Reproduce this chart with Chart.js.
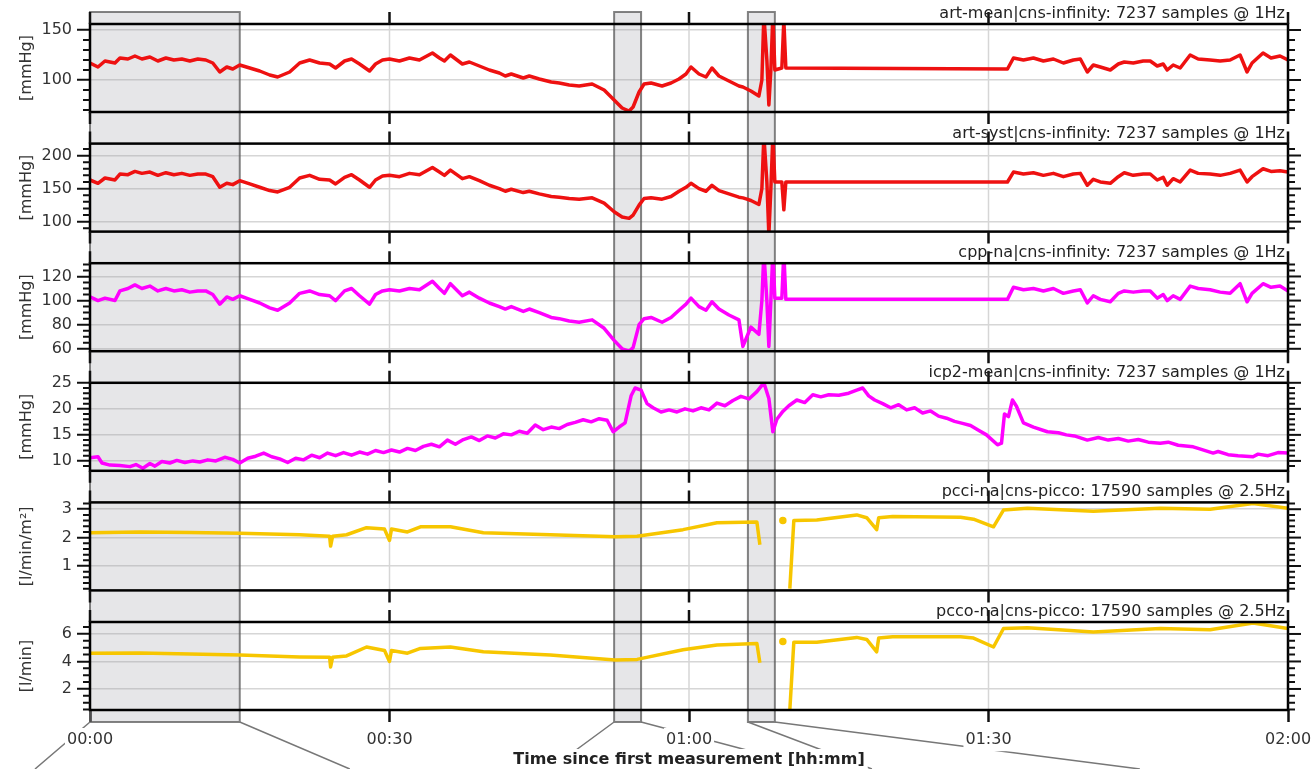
<!DOCTYPE html>
<html>
<head>
<meta charset="utf-8">
<script src="https://cdn.jsdelivr.net/npm/chart.js@4.4.1/dist/chart.umd.min.js"></script>
<style>
  html, body { margin: 0; padding: 0; background: #fff; }
  #wrap { position: relative; width: 1312px; height: 769px; }
</style>
</head>
<body>
<div id="wrap"><canvas id="signals" width="1312" height="769"></canvas></div>
<script>
// x axis: minutes since first measurement
const timeTicks = ['00:00', '00:30', '01:00', '01:30', '02:00'];
const xTitle = 'Time since first measurement [hh:mm]';

// panels, top to bottom
const panelTitles = [
  'art-mean|cns-infinity: 7237 samples @ 1Hz',
  'art-syst|cns-infinity: 7237 samples @ 1Hz',
  'cpp-na|cns-infinity: 7237 samples @ 1Hz',
  'icp2-mean|cns-infinity: 7237 samples @ 1Hz',
  'pcci-na|cns-picco: 17590 samples @ 2.5Hz',
  'pcco-na|cns-picco: 17590 samples @ 2.5Hz'
];
const panelUnits = ['[mmHg]', '[mmHg]', '[mmHg]', '[mmHg]', '[l/min/m²]', '[l/min]'];
const panelMin = [68, 85, 58, 8.1, 0.14, 0.47];
const panelMax = [156, 218, 131, 25, 3.24, 6.87];
const panelStep = [50, 50, 20, 5, 1, 2];
const panelMinor = [10, 10, 5, 1, 0.2, 0.5];
const panelColors = ['#ee1111', '#ee1111', '#ff00ff', '#ff00ff', '#f7c600', '#f7c600'];

// shaded intervals (minutes)
const shadeStart = [0, 52.5, 65.9];
const shadeEnd = [15.0, 55.2, 68.6];

// infinity monitor: art-mean, art-syst and cpp share one time base
const infinityTime = [0, 0.8, 1.5, 2.5, 3.0, 3.8, 4.5, 5.2, 6.0, 6.8,
  7.6, 8.4, 9.2, 10.0, 10.8, 11.6, 12.3, 13.0, 13.7, 14.3,
  15.0, 16.0, 17.0, 18.0, 18.8, 20.0, 21.0, 22.0, 23.0, 24.0,
  24.6, 25.5, 26.2, 27.0, 28.0, 28.6, 29.3, 30.0, 31.0, 32.0,
  33.0, 34.3, 35.0, 35.5, 36.1, 37.3, 38.0, 39.0, 40.0, 41.0,
  41.6, 42.2, 43.4, 44.0, 45.0, 46.2, 47.0, 48.0, 49.0, 50.3,
  51.5, 52.5, 53.3, 54.0, 54.4, 55.0, 55.5, 56.2, 57.3, 58.2,
  59.0, 59.7, 60.2, 61.0, 61.7, 62.3, 63.0, 64.0, 65.0, 65.4,
  65.8, 66.2, 67.0, 67.3, 67.5, 67.8, 68.0, 68.2, 68.4, 68.6,
  69.3, 69.5, 69.7, 91.9, 92.5, 93.5, 94.5, 95.5, 96.5, 97.5,
  98.5, 99.2, 99.9, 100.5, 101.2, 102.2, 103.0, 103.6, 104.5, 105.5,
  106.2, 106.9, 107.5, 107.9, 108.5, 109.2, 110.2, 111.0, 112.2, 113.2,
  114.2, 115.2, 115.9, 116.4, 117.5, 118.3, 119.2, 120];
const artMeanValues = [117, 113, 119, 117, 122, 121, 124, 121, 123, 119,
  122, 120, 121, 119, 121, 120, 117, 108, 113, 111,
  115, 112, 109, 105, 103, 108, 117, 120, 117, 116,
  112, 119, 121, 116, 109, 116, 120, 121, 119, 122,
  120, 127, 122, 119, 125, 116, 118, 114, 110, 107,
  104, 106, 102, 104, 101, 98, 97, 95, 94, 96,
  90, 80, 72, 69, 73, 88, 96, 97, 94, 97,
  101, 106, 113, 106, 103, 112, 104, 99, 94, 93,
  91, 89, 84, 100, 165, 120, 75, 110, 165, 110,
  112, 160, 112, 111, 122, 120, 122, 119, 121, 117,
  120, 121, 108, 115, 113, 110, 116, 118, 117, 119,
  119, 114, 116, 110, 115, 112, 125, 121, 120, 119,
  120, 125, 108, 117, 127, 122, 124, 120];
const artSystValues = [163, 158, 166, 163, 172, 171, 176, 173, 175, 170,
  174, 171, 173, 170, 172, 172, 168, 152, 158, 156,
  162, 157, 152, 147, 145, 152, 166, 170, 164, 163,
  157, 167, 171, 163, 152, 163, 169, 170, 168, 173,
  171, 182, 175, 170, 178, 165, 168, 162, 155, 150,
  146, 149, 144, 146, 142, 138, 137, 135, 134, 136,
  128, 115, 107, 105, 110, 125, 135, 136, 134, 138,
  146, 152, 158, 150, 146, 155, 147, 142, 137, 136,
  134, 132, 126, 150, 230, 160, 80, 150, 230, 160,
  160, 118, 160, 160, 175, 172, 174, 170, 173, 168,
  172, 173, 155, 164, 160, 158, 168, 174, 170, 172,
  172, 163, 167, 155, 165, 160, 178, 173, 172, 170,
  173, 178, 160, 168, 180, 176, 177, 175];
const cppValues = [103, 100, 102, 100, 108, 110, 113, 110, 112, 108,
  110, 108, 109, 107, 108, 108, 105, 97, 103, 101,
  104, 101, 98, 94, 92, 98, 106, 108, 105, 104,
  100, 108, 110, 104, 97, 105, 108, 109, 108, 110,
  109, 116, 110, 106, 114, 104, 107, 102, 98, 95,
  93, 95, 91, 93, 90, 86, 85, 83, 82, 84,
  77, 67, 60, 58, 61, 80, 85, 86, 82, 86,
  92, 97, 102, 95, 92, 99, 93, 88, 84, 62,
  70, 78, 72, 100, 140, 100, 62, 100, 140, 102,
  102, 140, 101, 101, 111, 109, 110, 108, 110, 106,
  108, 109, 98, 104, 101, 99, 106, 108, 107, 108,
  108, 102, 105, 100, 104, 101, 112, 110, 109, 107,
  106, 114, 99, 106, 114, 111, 112, 108];

const icpTime = [0, 0.8, 1.2, 2, 3, 4, 4.6, 5.3, 6, 6.5, 7.2, 8, 8.7, 9.5, 10.3, 11, 11.8, 12.6, 13.5, 14.3,
  15, 15.8, 16.6, 17.4, 18.2, 19, 19.8, 20.6, 21.4, 22.2, 23, 23.8, 24.6, 25.4, 26.2, 27, 27.8, 28.6, 29.4, 30.2,
  31, 31.8, 32.6, 33.4, 34.2, 35, 35.8, 36.6, 37.4, 38.2, 39, 39.8, 40.6, 41.4, 42.2, 43, 43.8, 44.6, 45.4, 46.2,
  47, 47.8, 48.6, 49.4, 50.2, 51, 51.8, 52.4, 53, 53.6, 54.2, 54.6, 55.2, 55.8, 56.4, 57.2, 58, 58.8, 59.6, 60.4,
  61.2, 62, 62.8, 63.6, 64.4, 65.2, 66, 66.8, 67.5, 68, 68.4, 68.8, 69.4, 70, 70.8, 71.6, 72.4, 73.2, 74, 75,
  76, 76.8, 77.4, 78, 78.6, 79.4, 80.2, 81, 81.8, 82.6, 83.4, 84.2, 85, 85.8, 86.6, 87.4, 88.2, 89, 89.8, 90.9,
  91.3, 91.6, 92, 92.4, 92.8, 93.5, 94.5, 95.9, 97, 97.8, 98.6, 99.9, 101, 102, 103, 104, 105, 106, 107.2, 108,
  109, 110.5, 111, 112.5, 113, 114, 115, 116.5, 117, 118, 119, 120];
const icpValues = [10.6, 10.8, 9.6, 9.2, 9.1, 8.9, 9.3, 8.6, 9.5, 9.0, 9.9, 9.6, 10.1, 9.7, 10.0, 9.8, 10.2, 10.0, 10.7, 10.3,
  9.6, 10.5, 10.9, 11.5, 10.8, 10.4, 9.7, 10.5, 10.2, 11.1, 10.6, 11.5, 11.0, 11.6, 11.1, 11.7, 11.3, 12.0, 11.6, 12.1,
  11.7, 12.4, 12.0, 12.8, 13.2, 12.7, 14.0, 13.2, 14.1, 14.6, 13.9, 14.8, 14.4, 15.2, 15.0, 15.7, 15.3, 16.9, 16.0, 16.5,
  16.2, 17.0, 17.4, 17.9, 17.5, 18.1, 17.8, 15.6, 16.5, 17.3, 22.5, 24.0, 23.6, 21.0, 20.2, 19.4, 19.8, 19.4, 20.0, 19.6,
  20.2, 19.8, 21.1, 20.6, 21.6, 22.4, 21.9, 23.3, 25.0, 22.0, 15.6, 18.0, 19.5, 20.6, 21.7, 21.2, 22.7, 22.3, 22.7, 22.6,
  23.0, 23.6, 24.0, 22.5, 21.7, 21.0, 20.2, 20.8, 19.8, 20.2, 19.2, 19.6, 18.6, 18.2, 17.6, 17.2, 16.8, 15.9, 15.0, 13.1,
  13.4, 19.0, 18.5, 21.7, 20.5, 17.3, 16.5, 15.6, 15.4, 15.0, 14.8, 14.0, 14.5, 14.0, 14.3, 13.8, 14.1, 13.6, 13.4, 13.6,
  13.0, 12.7, 12.4, 11.5, 11.8, 11.2, 11.0, 10.8, 11.3, 11.0, 11.6, 11.5];

// picco device: both series share one time base; null = no signal
const piccoTime = [0, 5, 10, 15, 21, 24, 24.1, 24.3, 25.7, 27.7, 29.5, 30, 30.2, 31.8, 33.1, 36.1, 39.4, 46.1, 52.6, 54.8,
  59.4, 62.8, 66.8, 67.1, 67.3, 69.4, 69.5, 70.1, 70.5, 72.8, 76.8, 77.8, 78.8, 79.0, 80.4, 87.2, 88.5, 90.5, 91.5, 93.9,
  100.5, 107.2, 112.2, 116.5, 120];
const pcciValues = [2.17, 2.2, 2.18, 2.15, 2.1, 2.05, 1.7, 2.05, 2.1, 2.35, 2.3, 1.9, 2.3, 2.2, 2.38, 2.38, 2.17, 2.1, 2.03, 2.05,
  2.28, 2.52, 2.55, 1.75, null, 2.6, null, 0.2, 2.6, 2.62, 2.8, 2.7, 2.28, 2.7, 2.74, 2.72, 2.65, 2.38, 2.97, 3.03,
  2.93, 3.03, 3.0, 3.2, 3.03];
const pccoValues = [4.6, 4.62, 4.55, 4.47, 4.33, 4.3, 3.6, 4.3, 4.4, 5.05, 4.8, 4.0, 4.8, 4.6, 4.95, 5.05, 4.7, 4.47, 4.1, 4.15,
  4.85, 5.2, 5.3, 3.9, null, 5.45, null, 0.47, 5.4, 5.4, 5.75, 5.6, 4.7, 5.7, 5.8, 5.8, 5.7, 5.05, 6.4, 6.45,
  6.15, 6.4, 6.3, 6.8, 6.4];

const seriesTimes = [infinityTime, infinityTime, infinityTime, icpTime, piccoTime, piccoTime];
const seriesValues = [artMeanValues, artSystValues, cppValues, icpValues, pcciValues, pccoValues];

const FONT = 'DejaVu Sans';

function toPoints(times, values) {
  return times.map((t, k) => ({x: t, y: values[k]}));
}

// isolated samples (gap on both sides) are shown as a dot
function isolatedRadius(ctx) {
  const d = ctx.dataset.data, i = ctx.dataIndex;
  const prev = d[i - 1], next = d[i + 1];
  if (d[i].y == null) return 0;
  return (prev && prev.y == null) && (next && next.y == null) ? 2 : 0;
}

const datasets = panelTitles.map((title, i) => ({
  label: title,
  data: toPoints(seriesTimes[i], seriesValues[i]),
  yAxisID: 'y' + i,
  borderColor: panelColors[i],
  backgroundColor: panelColors[i],
  borderWidth: 3.5,
  borderJoinStyle: 'round',
  pointRadius: isolatedRadius,
  pointHoverRadius: 0,
  tension: 0,
  spanGaps: false,
  fill: false
}));

const scales = {
  x: {
    type: 'linear', min: 0, max: 120,
    afterFit: s => { s.height = 59; s.paddingLeft = 0; s.paddingRight = 0; },
    ticks: {
      stepSize: 30, autoSkip: false, maxRotation: 0,
      callback: (v, i) => timeTicks[i],
      color: '#333', font: {family: FONT, size: 16}, padding: 8,
      showLabelBackdrop: true, backdropColor: '#fff', backdropPadding: 2, z: 1
    },
    grid: {drawOnChartArea: false, drawTicks: true, tickLength: 12, tickColor: '#111', tickWidth: 2.5},
    border: {display: false}
  }
};
// first defined sits at the bottom of the stack
for (let i = panelTitles.length - 1; i >= 0; i--) {
  scales['y' + i] = {
    type: 'linear', position: 'left', stack: 'panels', stackWeight: 88,
    min: panelMin[i], max: panelMax[i],
    afterFit: s => { s.width = 90; },
    ticks: {stepSize: panelStep[i], includeBounds: false, autoSkip: false, color: '#333', font: {family: FONT, size: 16}, padding: 5},
    grid: {color: '#d6d6d6', lineWidth: 1.5, tickColor: '#111', tickLength: 13, tickWidth: 2},
    border: {display: false},
    title: {display: true, text: panelUnits[i], color: '#333', font: {family: FONT, size: 16}, padding: {top: 17, bottom: 0}}
  };
  if (i > 0) {
    scales['gap' + i] = {
      type: 'linear', position: 'left', stack: 'panels', stackWeight: 31.6,
      afterFit: s => { s.width = 90; },
      ticks: {display: false},
      grid: {display: false, drawTicks: false},
      border: {display: false}
    };
  }
}

const panelDecor = {
  id: 'panelDecor',
  beforeDatasetsDraw(chart) {
    const ctx = chart.ctx, xs = chart.scales.x, area = chart.chartArea;
    ctx.save();
    ctx.strokeStyle = '#d6d6d6';
    ctx.lineWidth = 1.5;
    panelTitles.forEach((t, i) => {
      const s = chart.scales['y' + i];
      xs.ticks.forEach(tk => {
        const px = xs.getPixelForValue(tk.value);
        ctx.beginPath(); ctx.moveTo(px, s.top); ctx.lineTo(px, s.bottom); ctx.stroke();
      });
    });
    shadeStart.forEach((st, i) => {
      const x0 = xs.getPixelForValue(st), x1 = xs.getPixelForValue(shadeEnd[i]);
      const y0 = area.top - 12, y1 = area.bottom + 12;
      ctx.fillStyle = 'rgba(150,150,160,0.24)';
      ctx.fillRect(x0, y0, x1 - x0, y1 - y0);
      ctx.strokeStyle = 'rgba(90,90,90,0.75)';
      ctx.lineWidth = 2;
      ctx.strokeRect(x0, y0, x1 - x0, y1 - y0);
    });
    ctx.restore();
  },
  beforeDatasetDraw(chart, args) {
    const ctx = chart.ctx, s = chart.scales[args.meta.yAxisID], area = chart.chartArea;
    ctx.save();
    ctx.beginPath();
    ctx.rect(area.left, s.top, area.right - area.left, s.bottom - s.top);
    ctx.clip();
  },
  afterDatasetDraw(chart) {
    chart.ctx.restore();
  },
  afterDatasetsDraw(chart) {
    const ctx = chart.ctx, xs = chart.scales.x, area = chart.chartArea;
    ctx.save();
    panelTitles.forEach((title, i) => {
      const s = chart.scales['y' + i];
      ctx.strokeStyle = '#000';
      ctx.lineWidth = 2.5;
      ctx.strokeRect(area.left, s.top, area.right - area.left, s.bottom - s.top);

      ctx.strokeStyle = '#111';
      xs.ticks.forEach(tk => {
        const px = xs.getPixelForValue(tk.value);
        ctx.beginPath();
        ctx.moveTo(px, s.top); ctx.lineTo(px, s.top - 12);
        if (i < panelTitles.length - 1) { ctx.moveTo(px, s.bottom); ctx.lineTo(px, s.bottom + 12); }
        ctx.stroke();
      });

      ctx.lineWidth = 2;
      const minor = panelMinor[i], major = panelStep[i];
      for (let k = Math.ceil(s.min / minor - 1e-9); k * minor <= s.max + 1e-9; k++) {
        const v = k * minor;
        const py = s.getPixelForValue(v);
        const isMajor = Math.abs(v / major - Math.round(v / major)) < 1e-6;
        ctx.beginPath();
        if (!isMajor) { ctx.moveTo(area.left, py); ctx.lineTo(area.left - 7, py); }
        ctx.moveTo(area.right, py); ctx.lineTo(area.right + (isMajor ? 13 : 7), py);
        ctx.stroke();
      }

      ctx.fillStyle = '#222';
      ctx.font = '16px "' + FONT + '"';
      ctx.textAlign = 'right';
      ctx.textBaseline = 'alphabetic';
      ctx.fillText(title, area.right - 3, s.top - 6);
    });

    // connectors from the shaded intervals to the zoomed views below
    const spread = [[-55, 110], [-64, 177], [124, 365]];
    const yb = area.bottom + 12;
    ctx.strokeStyle = '#777';
    ctx.lineWidth = 1.5;
    shadeStart.forEach((st, i) => {
      const x0 = xs.getPixelForValue(st), x1 = xs.getPixelForValue(shadeEnd[i]);
      ctx.beginPath();
      ctx.moveTo(x0, yb); ctx.lineTo(x0 + spread[i][0], yb + 47);
      ctx.moveTo(x1, yb); ctx.lineTo(x1 + spread[i][1], yb + 47);
      ctx.stroke();
    });
    ctx.restore();
  },
  afterDraw(chart) {
    const ctx = chart.ctx, area = chart.chartArea;
    ctx.save();
    ctx.font = 'bold 16px "' + FONT + '"';
    const w = ctx.measureText(xTitle).width;
    const cx = (area.left + area.right) / 2;
    ctx.fillStyle = '#fff';
    ctx.fillRect(cx - w / 2 - 3, area.bottom + 39, w + 6, 22);
    ctx.fillStyle = '#222';
    ctx.textAlign = 'center';
    ctx.textBaseline = 'alphabetic';
    ctx.fillText(xTitle, cx, area.bottom + 54);
    ctx.restore();
  }
};

new Chart(document.getElementById('signals').getContext('2d'), {
  type: 'line',
  data: {datasets: datasets},
  options: {
    responsive: false,
    animation: false,
    layout: {padding: {left: 0, right: 24, top: 24, bottom: 0}},
    plugins: {legend: {display: false}, tooltip: {enabled: false}},
    scales: scales
  },
  plugins: [panelDecor]
});
</script>
</body>
</html>
